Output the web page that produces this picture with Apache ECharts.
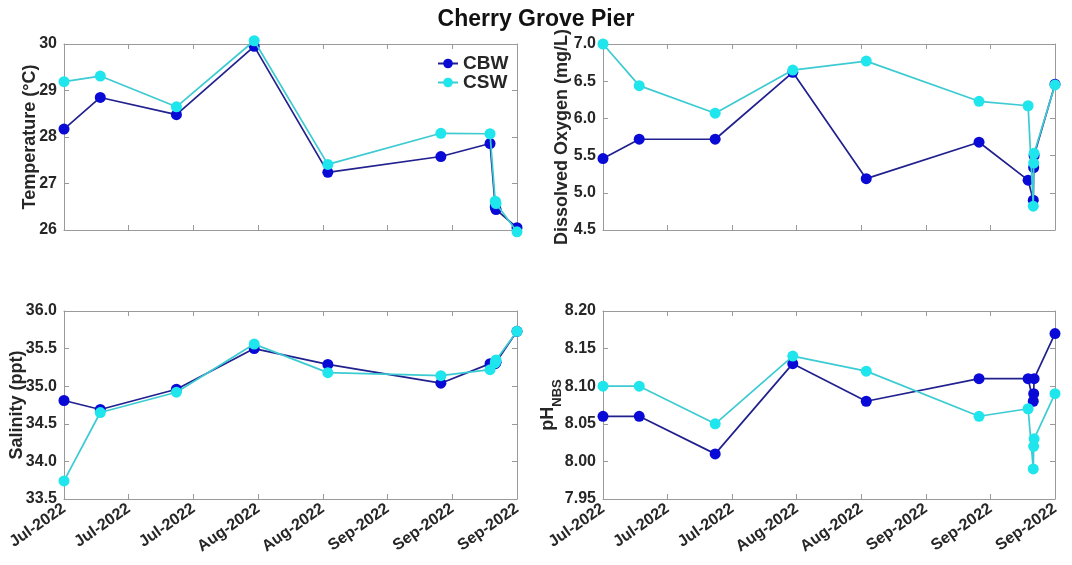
<!DOCTYPE html>
<html>
<head>
<meta charset="utf-8">
<script src="https://cdn.jsdelivr.net/npm/echarts@6/dist/echarts.min.js"></script>
<style>
  html, body { margin: 0; padding: 0; background: #fff; }
  #chart { width: 1072px; height: 565px; }
</style>
</head>
<body>
<div id="chart"></div>
<script>
// Sampling times at Cherry Grove Pier (UTC)
const sampleTimes = [
  '2022-07-01T00:00', '2022-07-08T07:00', '2022-07-23T14:00', '2022-08-08T05:00',
  '2022-08-23T00:00', '2022-09-14T17:00', '2022-09-24T14:00', '2022-09-25T15:00',
  '2022-09-25T17:00', '2022-09-25T19:00', '2022-09-30T00:00'
];

// Temperature (°C)
const tempCBW = [28.17, 28.85, 28.48, 29.95, 27.24, 27.58, 27.86, 26.50, 26.47, 26.44, 26.05];
const tempCSW = [29.19, 29.31, 28.65, 30.07, 27.41, 28.08, 28.07, 26.62, 26.60, 26.57, 25.96];

// Dissolved oxygen (mg/L)
const doCBW = [5.46, 5.72, 5.72, 6.62, 5.19, 5.68, 5.17, 4.90, 5.34, 5.50, 6.46];
const doCSW = [7.00, 6.44, 6.07, 6.65, 6.77, 6.23, 6.17, 4.82, 5.40, 5.53, 6.45];

// Salinity (ppt)
const salCBW = [34.81, 34.69, 34.96, 35.50, 35.29, 35.04, 35.30, 35.30, 35.31, 35.32, 35.73];
const salCSW = [33.74, 34.65, 34.92, 35.56, 35.18, 35.14, 35.22, 35.31, 35.33, 35.35, 35.73];

// pH (NBS scale)
const phCBW = [8.06, 8.06, 8.01, 8.13, 8.08, 8.11, 8.11, 8.08, 8.09, 8.11, 8.17];
const phCSW = [8.10, 8.10, 8.05, 8.14, 8.12, 8.06, 8.07, 7.99, 8.02, 8.03, 8.09];

// Date axis: days since the first sample, ticks every 13 days
const seriesNames = ['CBW', 'CSW'];
const monthNames = ['Jan','Feb','Mar','Apr','May','Jun','Jul','Aug','Sep','Oct','Nov','Dec'];
const DAY = 86400000;
const BASE = Date.parse(sampleTimes[0] + ':00Z');
const X_STEP = 13;
const X_MAX = 91;
const sampleDays = sampleTimes.map(t => (Date.parse(t + ':00Z') - BASE) / DAY);

function dateLabel(v) {
  const d = new Date(BASE + v * DAY);
  return monthNames[d.getUTCMonth()] + '-' + d.getUTCFullYear();
}

const FONT = '"Liberation Sans", Arial, Helvetica, sans-serif';
const TEXT = '#262626';
const AXIS = '#9a9a9a';
const colors = {
  CBW: { line: '#20208f', marker: '#0a0ad6' },
  CSW: { line: '#3ccbd2', marker: '#1fe5ec' }
};

const panels = [
  { name: 'Temperature (°C)', data: [tempCBW, tempCSW], min: 26, max: 30, step: 1, dec: 0,
    box: { left: 64, top: 44, width: 453, height: 186 }, xLabels: false, nameGap: 25 },
  { name: 'Dissolved Oxygen (mg/L)', data: [doCBW, doCSW], min: 4.5, max: 7.0, step: 0.5, dec: 1,
    box: { left: 603, top: 44, width: 452, height: 186 }, xLabels: false, nameGap: 32 },
  { name: 'Salinity (ppt)', data: [salCBW, salCSW], min: 33.5, max: 36.0, step: 0.5, dec: 1,
    box: { left: 64, top: 311, width: 453, height: 188 }, xLabels: true, nameGap: 38 },
  { name: '{a|pH}{b|NBS}', data: [phCBW, phCSW], min: 7.95, max: 8.20, step: 0.05, dec: 2,
    box: { left: 603, top: 311, width: 452, height: 188 }, xLabels: true, nameGap: 39 }
];

const grid = [], xAxis = [], yAxis = [], series = [];
const tickStyle = { show: true, inside: true, length: 5, lineStyle: { color: AXIS, width: 1 } };
const lineStyleAxis = { show: true, onZero: false, lineStyle: { color: AXIS, width: 1 } };

panels.forEach((p, i) => {
  grid.push(Object.assign({ containLabel: false }, p.box));
  // bottom and top date axes
  xAxis.push({
    type: 'value', gridIndex: i, position: 'bottom', min: 0, max: X_MAX, interval: X_STEP,
    axisLine: lineStyleAxis, axisTick: tickStyle, splitLine: { show: false },
    axisLabel: {
      show: p.xLabels, rotate: 35, margin: 8, formatter: dateLabel,
      color: TEXT, fontFamily: FONT, fontWeight: 'bold', fontSize: 16
    }
  });
  xAxis.push({
    type: 'value', gridIndex: i, position: 'top', min: 0, max: X_MAX, interval: X_STEP,
    axisLine: lineStyleAxis, axisTick: tickStyle, splitLine: { show: false },
    axisLabel: { show: false }
  });
  // left and right value axes
  yAxis.push({
    type: 'value', gridIndex: i, position: 'left', min: p.min, max: p.max, interval: p.step,
    name: p.name, nameLocation: 'middle', nameGap: p.nameGap, nameRotate: 90,
    nameMoveOverlap: false,
    nameTextStyle: {
      color: TEXT, fontFamily: FONT, fontWeight: 'bold', fontSize: 18,
      rich: {
        a: { color: TEXT, fontFamily: FONT, fontWeight: 'bold', fontSize: 18, padding: [0, 0, 7, 0] },
        b: { color: TEXT, fontFamily: FONT, fontWeight: 'bold', fontSize: 13, verticalAlign: 'bottom' }
      }
    },
    axisLine: lineStyleAxis, axisTick: tickStyle, splitLine: { show: false },
    axisLabel: {
      margin: 7, color: TEXT, fontFamily: FONT, fontWeight: 'bold', fontSize: 16,
      formatter: v => v.toFixed(p.dec)
    }
  });
  yAxis.push({
    type: 'value', gridIndex: i, position: 'right', min: p.min, max: p.max, interval: p.step,
    axisLine: lineStyleAxis, axisTick: tickStyle, splitLine: { show: false },
    axisLabel: { show: false }
  });
  seriesNames.forEach((s, k) => {
    series.push({
      name: s, type: 'line', xAxisIndex: 2 * i, yAxisIndex: 2 * i,
      data: p.data[k].map((v, j) => [sampleDays[j], v]),
      symbol: 'circle', symbolSize: 11, clip: false, animation: false,
      z: 2 + k,
      lineStyle: { color: colors[s].line, width: 1.7 },
      itemStyle: { color: colors[s].marker }
    });
  });
});

const chart = echarts.init(document.getElementById('chart'), null, { renderer: 'canvas' });
chart.setOption({
  backgroundColor: '#ffffff',
  animation: false,
  title: {
    text: 'Cherry Grove Pier', left: 'center', top: 3,
    textStyle: { color: '#111', fontFamily: FONT, fontWeight: 'bold', fontSize: 23 }
  },
  legend: {
    data: seriesNames, orient: 'vertical', left: 432, top: 49,
    itemWidth: 20, itemHeight: 12, itemGap: 0,
    textStyle: { color: TEXT, fontFamily: FONT, fontWeight: 'bold', fontSize: 19 }
  },
  grid, xAxis, yAxis, series
});
</script>
</body>
</html>
